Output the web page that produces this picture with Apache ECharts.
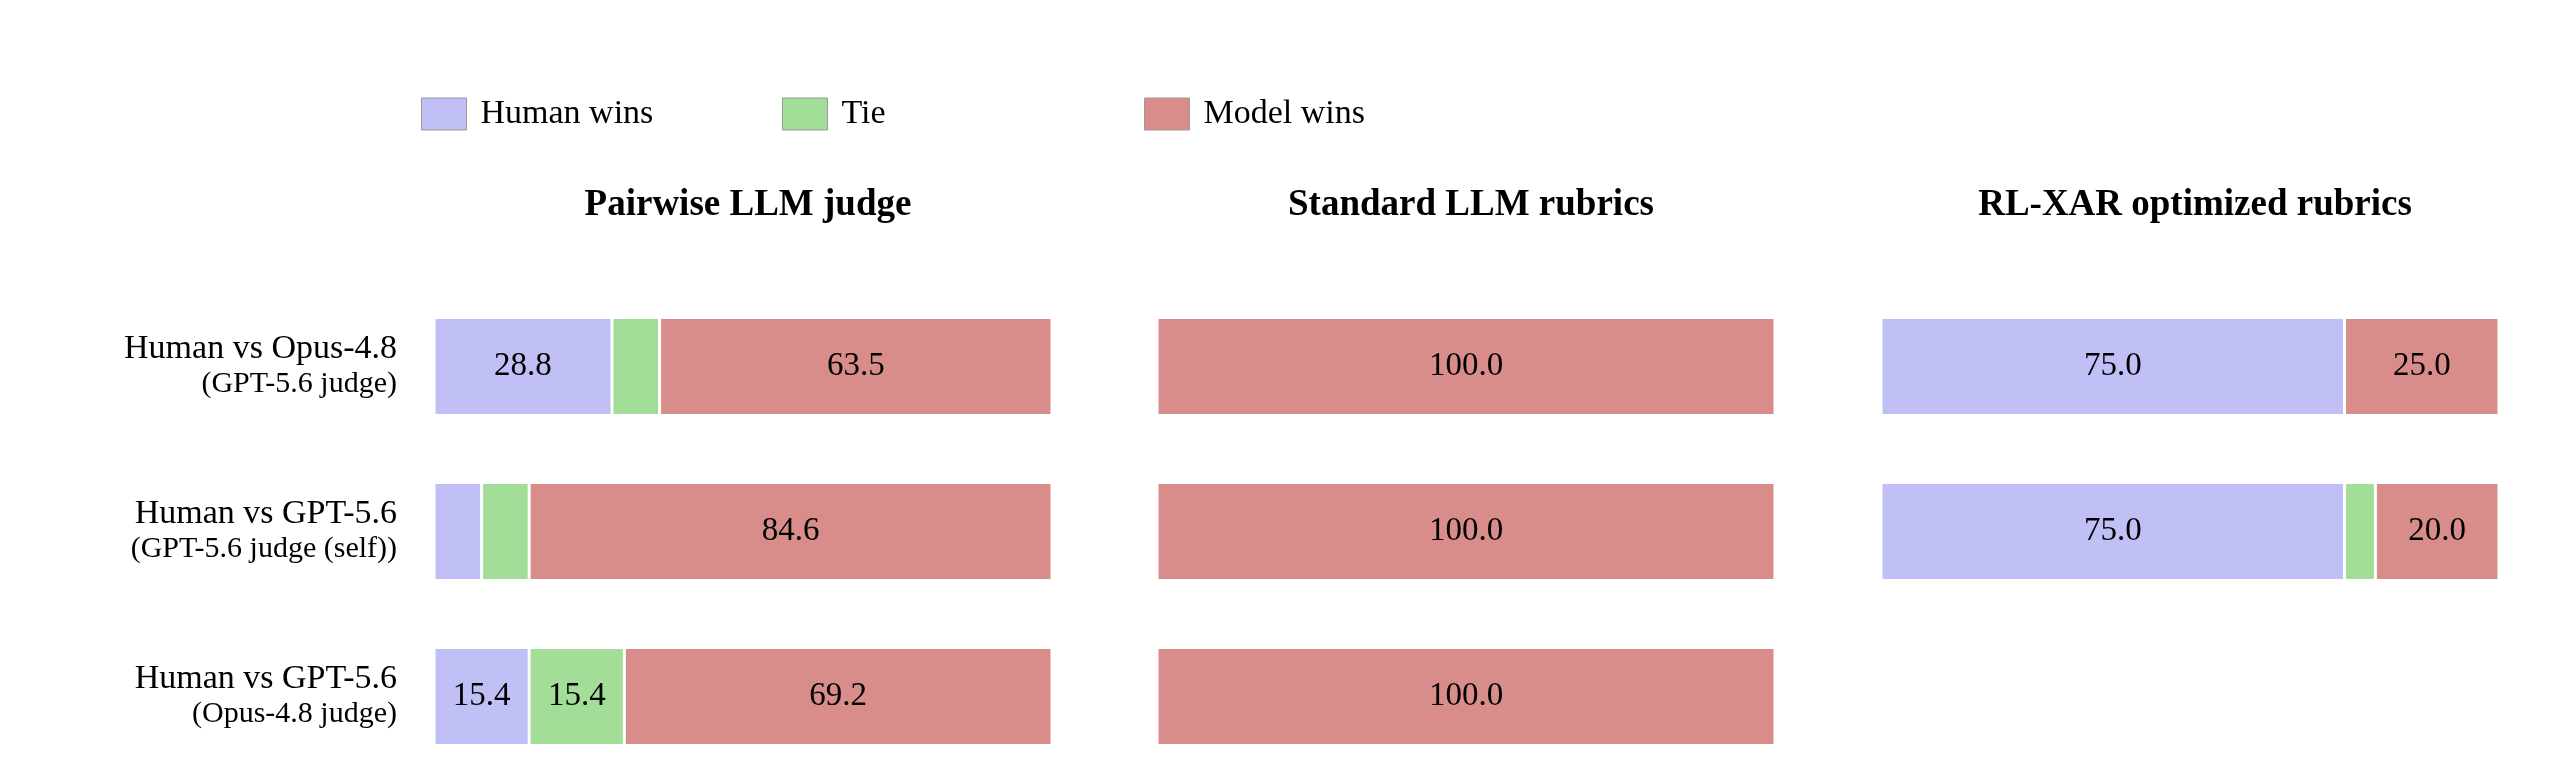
<!DOCTYPE html>
<html><head><meta charset="utf-8">
<script src="https://cdn.jsdelivr.net/npm/echarts@6/dist/echarts.min.js"></script>
<style>html,body{margin:0;background:#fff}#c{width:2558px;height:782px}</style>
</head><body><div id="c"></div>
<script>
const rows = ['Human vs Opus-4.8|(GPT-5.6 judge)', 'Human vs GPT-5.6|(GPT-5.6 judge (self))', 'Human vs GPT-5.6|(Opus-4.8 judge)'];
const panels = ['Pairwise LLM judge', 'Standard LLM rubrics', 'RL-XAR optimized rubrics'];
const seriesNames = ['Human wins', 'Tie', 'Model wins'];
const colors = ['#c0c0f7', '#a3de98', '#d98d8b'];
const humanWins = [[28.8, 7.7, 15.4], [0, 0, 0], [75.0, 75.0, null]];
const tie = [[7.7, 7.7, 15.4], [0, 0, 0], [0, 5.0, null]];
const modelWins = [[63.5, 84.6, 69.2], [100.0, 100.0, 100.0], [25.0, 20.0, null]];
const vals = [humanWins, tie, modelWins];

const F = "'Liberation Serif', 'DejaVu Serif', serif";
const lefts = [434, 1157, 1881], W = 618;
const legendLefts = [416, 777, 1139];
const grids = lefts.map(l => ({left: l, width: W, top: 284, height: 495}));
const xAxes = lefts.map((_, i) => ({gridIndex: i, type: 'value', min: 0, max: 100, show: false}));
const yAxes = lefts.map((_, i) => ({
  gridIndex: i, type: 'category', data: rows, inverse: true,
  axisLine: {show: false}, axisTick: {show: false},
  axisLabel: {show: i === 0, margin: 37, align: 'right',
    formatter: v => { const p = v.split('|'); return '{a|' + p[0] + '}\n{b|' + p[1] + '}'; },
    rich: {a: {fontFamily: F, fontSize: 34, color: '#000', align: 'right', lineHeight: 36},
           b: {fontFamily: F, fontSize: 30, color: '#000', align: 'right', lineHeight: 34}}}
}));
const series = [];
panels.forEach((_, p) => {
  seriesNames.forEach((n, s) => {
    series.push({
      name: n, type: 'bar', stack: 'p' + p, xAxisIndex: p, yAxisIndex: p, barWidth: 98,
      itemStyle: {color: colors[s], borderColor: '#fff', borderWidth: 1.5},
      label: {show: true, position: 'inside', color: '#000', fontFamily: F, fontSize: 33,
        formatter: d => (d.value != null && d.value >= 10) ? d.value.toFixed(1) : ''},
      data: vals[s][p]
    });
  });
});
const chart = echarts.init(document.getElementById('c'));
chart.setOption({
  animation: false,
  legend: seriesNames.map((n, i) => ({left: legendLefts[i], top: 92, itemWidth: 45, itemHeight: 32, icon: 'rect',
    data: [{name: n, itemStyle: {color: colors[i], borderColor: '#999', borderWidth: 1}}],
    textStyle: {fontFamily: F, fontSize: 34, color: '#000', padding: [0, 0, 0, 9]}})),
  title: panels.map((t, i) => ({text: t, left: lefts[i] + W / 2, top: 182, textAlign: 'center',
    textStyle: {fontFamily: F, fontSize: 37, fontWeight: 'bold', color: '#000'}})),
  grid: grids, xAxis: xAxes, yAxis: yAxes, series
});
</script></body></html>
